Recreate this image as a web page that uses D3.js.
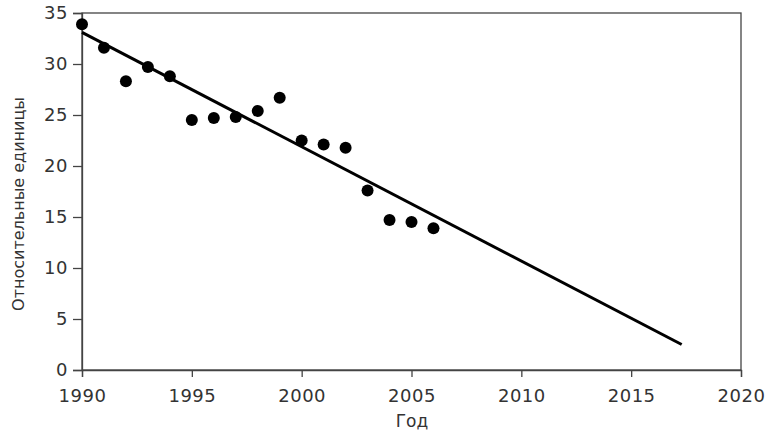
<!DOCTYPE html>
<html><head><meta charset="utf-8">
<script src="https://cdn.jsdelivr.net/npm/d3@7"></script>
<style>body{margin:0;background:#fff}</style>
</head><body>
<svg id="c" width="777" height="434"></svg>
<script>
const years = [1990,1991,1992,1993,1994,1995,1996,1997,1998,1999,2000,2001,2002,2003,2004,2005,2006];
const values = [33.9,31.6,28.3,29.7,28.8,24.5,24.7,24.8,25.4,26.7,22.5,22.1,21.8,17.6,14.7,14.5,13.9];
const trendYears = [1990, 2017.3];
const trendValues = [33.1, 2.5];
const xTicks = [1990,1995,2000,2005,2010,2015,2020];
const yTicks = [0,5,10,15,20,25,30,35];
const xTitle = "Год";
const yTitle = "Относительные единицы";

const svg = d3.select("#c");
const m = {l:82, r:741, t:13, b:370};
const x = d3.scaleLinear().domain([1990,2020]).range([m.l, m.r]);
const y = d3.scaleLinear().domain([0,35]).range([m.b, m.t]);
const font = "'DejaVu Sans', sans-serif";
const axisCol = "#444";

// frame
svg.append("rect").attr("x", m.l).attr("y", m.t).attr("width", m.r-m.l).attr("height", m.b-m.t)
  .attr("fill","none").attr("stroke", axisCol).attr("stroke-width",1.3);

const xa = svg.append("g").attr("transform", `translate(0,${m.b})`)
  .call(d3.axisBottom(x).tickValues(xTicks).tickFormat(d3.format("d")).tickSize(7).tickPadding(12));
const ya = svg.append("g").attr("transform", `translate(${m.l},0)`)
  .call(d3.axisLeft(y).tickValues(yTicks).tickSize(9).tickPadding(5));
[xa, ya].forEach(a => {
  a.select(".domain").attr("stroke", axisCol).attr("stroke-width",1.3);
  a.selectAll(".tick line").attr("stroke", axisCol).attr("stroke-width",1.3);
  a.selectAll("text").attr("fill","#333").style("font-family", font).style("font-size","18px")
    .style("letter-spacing","0.5px");
});

// trend line
svg.append("line")
  .attr("x1", x(trendYears[0])).attr("y1", y(trendValues[0]))
  .attr("x2", x(trendYears[1])).attr("y2", y(trendValues[1]))
  .attr("stroke","#000").attr("stroke-width",3);

// points
svg.selectAll("circle.pt").data(years).join("circle").attr("class","pt")
  .attr("cx", d => x(d)).attr("cy", (d,i) => y(values[i])).attr("r", 6).attr("fill","#000");

// titles
svg.append("text").attr("x", 412).attr("y", 427).attr("text-anchor","middle")
  .attr("fill","#333").style("font-family", font).style("font-size","17px").text(xTitle);
svg.append("text").attr("transform", `translate(24,204) rotate(-90)`)
  .attr("text-anchor","middle").attr("fill","#333").style("font-family", font).style("font-size","16px").text(yTitle);
</script>
</body></html>
